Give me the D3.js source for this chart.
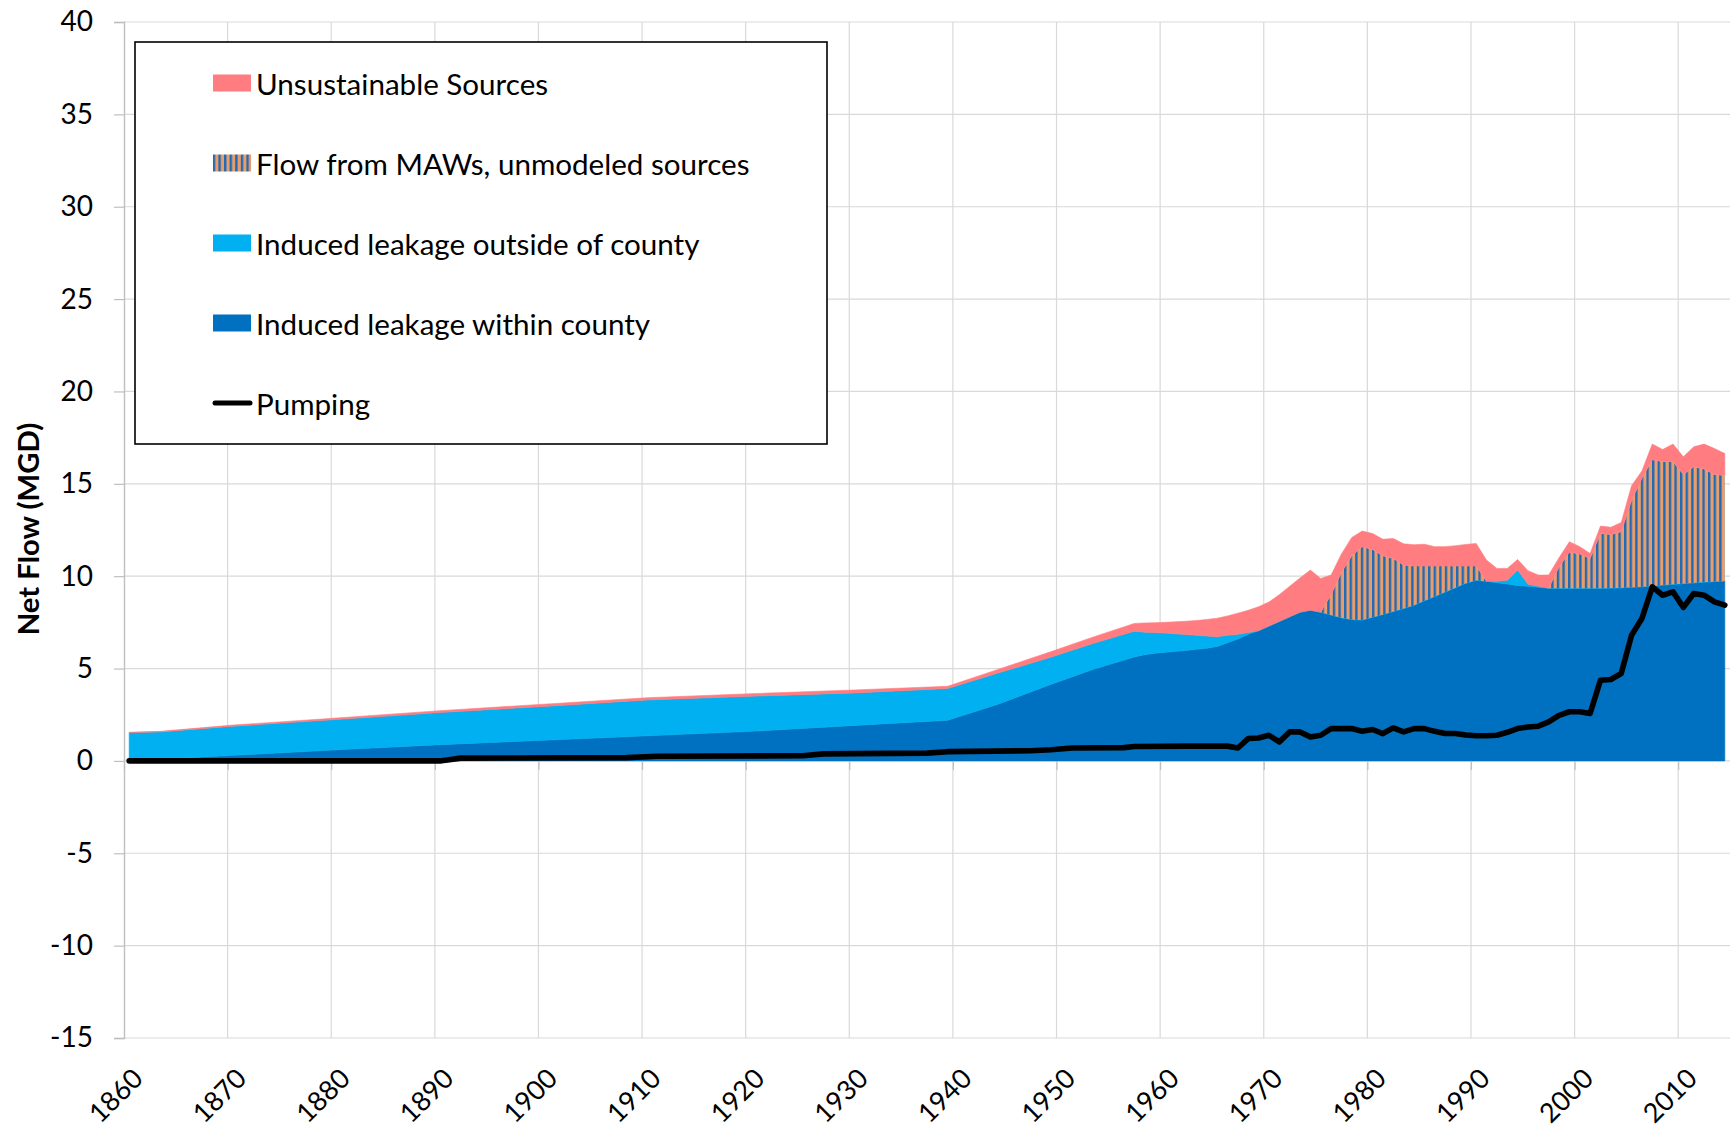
<!DOCTYPE html>
<html>
<head>
<meta charset="utf-8">
<script src="https://cdn.jsdelivr.net/npm/d3@7"></script>
<style>
  html, body { margin: 0; padding: 0; background: #ffffff; }
  svg { display: block; }
  text { font-family: Lato, "Open Sans", sans-serif; fill: #000000; }
</style>
</head>
<body>
<svg id="chart" width="1734" height="1128"></svg>
<script>
// ---- Data (MGD) ----
const years = [1860, 1863, 1870, 1880, 1890, 1900, 1910, 1920, 1930, 1939, 1944, 1949, 1953,
  1957, 1958, 1959, 1960, 1961, 1962, 1963, 1964, 1965, 1966, 1967, 1968, 1969,
  1970, 1971, 1972, 1973, 1974, 1975, 1976, 1977, 1978, 1979,
  1980, 1981, 1982, 1983, 1984, 1985, 1986, 1987, 1988, 1989,
  1990, 1991, 1992, 1993, 1994, 1995, 1996, 1997, 1998, 1999,
  2000, 2001, 2002, 2003, 2004, 2005, 2006, 2007, 2008, 2009,
  2010, 2011, 2012, 2013, 2014];

const withinCounty = [0, 0.08, 0.3, 0.6, 0.88, 1.12, 1.36, 1.6, 1.92, 2.2, 3.1, 4.15, 4.95,
  5.63, 5.75, 5.83, 5.88, 5.93, 5.98, 6.04, 6.1, 6.2, 6.4, 6.6, 6.85, 7.05,
  7.3, 7.55, 7.8, 8.05, 8.16, 8.05, 7.9, 7.75, 7.65, 7.63,
  7.78, 7.93, 8.09, 8.25, 8.43, 8.67, 8.9, 9.14, 9.38, 9.62,
  9.78, 9.72, 9.65, 9.58, 9.5, 9.45, 9.4, 9.35, 9.34, 9.34,
  9.34, 9.35, 9.35, 9.36, 9.37, 9.4, 9.43, 9.47, 9.52, 9.56,
  9.6, 9.64, 9.68, 9.71, 9.74];

const outsideCounty = [1.54, 1.49, 1.58, 1.64, 1.74, 1.83, 1.94, 1.9, 1.76, 1.72, 1.68, 1.47, 1.4,
  1.39, 1.22, 1.12, 1.04, 0.95, 0.86, 0.76, 0.66, 0.52, 0.4, 0.25, 0.1, 0,
  0, 0, 0, 0, 0, 0, 0, 0, 0, 0,
  0, 0, 0, 0, 0, 0, 0, 0, 0, 0,
  0, 0, 0.08, 0.2, 0.83, 0.12, 0.05, 0, 0, 0,
  0, 0, 0, 0, 0, 0, 0, 0, 0, 0,
  0, 0, 0, 0, 0];

const mawFlow = [0, 0, 0, 0, 0, 0, 0, 0, 0, 0, 0, 0, 0,
  0, 0, 0, 0, 0, 0, 0, 0, 0, 0, 0, 0, 0,
  0, 0, 0, 0, 0, 0, 1.1, 2.45, 3.45, 3.96,
  3.67, 3.17, 2.87, 2.35, 2.12, 1.88, 1.65, 1.41, 1.17, 0.93,
  0.77, 0, 0, 0, 0, 0, 0, 0, 1.16, 1.96,
  1.86, 1.61, 2.96, 2.89, 3.03, 4.7, 5.87, 6.83, 6.68, 6.64,
  5.9, 6.28, 6.12, 5.79, 5.71];

const unsustainable = [0, 0.03, 0.06, 0.08, 0.1, 0.12, 0.12, 0.14, 0.16, 0.12, 0.2, 0.3, 0.35,
  0.42, 0.5, 0.53, 0.58, 0.65, 0.72, 0.8, 0.9, 1.0, 1.05, 1.15, 1.2, 1.3,
  1.3, 1.45, 1.65, 1.85, 2.17, 1.83, 1.06, 1.0, 1.0, 0.85,
  0.86, 0.9, 1.08, 1.15, 1.15, 1.18, 1.05, 1.05, 1.1, 1.17,
  1.22, 1.15, 0.69, 0.64, 0.57, 0.73, 0.61, 0.71, 0.5, 0.56,
  0.4, 0.27, 0.4, 0.4, 0.5, 0.8, 0.4, 0.85, 0.66, 0.95,
  0.96, 1.08, 1.35, 1.41, 1.19];

const pumpYears = [1860, 1890, 1892, 1908, 1911, 1925, 1927, 1937, 1939, 1947, 1949, 1951,
  1956, 1957, 1962, 1966, 1967, 1968, 1969,
  1970, 1971, 1972, 1973, 1974, 1975, 1976, 1977, 1978, 1979,
  1980, 1981, 1982, 1983, 1984, 1985, 1986, 1987, 1988, 1989,
  1990, 1991, 1992, 1993, 1994, 1995, 1996, 1997, 1998, 1999,
  2000, 2001, 2002, 2003, 2004, 2005, 2006, 2007, 2008, 2009,
  2010, 2011, 2012, 2013, 2014];

const pumping = [0, 0, 0.15, 0.18, 0.25, 0.28, 0.38, 0.42, 0.5, 0.55, 0.6, 0.7,
  0.72, 0.78, 0.8, 0.8, 0.7, 1.21, 1.24,
  1.39, 1.03, 1.57, 1.57, 1.3, 1.39, 1.75, 1.75, 1.75, 1.61,
  1.7, 1.48, 1.79, 1.57, 1.75, 1.75, 1.6, 1.48, 1.48, 1.4,
  1.36, 1.36, 1.39, 1.55, 1.75, 1.84, 1.88, 2.11, 2.47, 2.66,
  2.66, 2.57, 4.37, 4.41, 4.73, 6.8, 7.71, 9.42, 8.97, 9.15,
  8.31, 9.06, 8.97, 8.61, 8.43];

const yTicks = [-15, -10, -5, 0, 5, 10, 15, 20, 25, 30, 35, 40];
const xTicks = [1860, 1870, 1880, 1890, 1900, 1910, 1920, 1930, 1940, 1950, 1960, 1970, 1980, 1990, 2000, 2010];

const seriesKeys = ["within", "outside", "maw", "unsust"];
const legendLabels = ["Unsustainable Sources", "Flow from MAWs, unmodeled sources",
  "Induced leakage outside of county", "Induced leakage within county", "Pumping"];
const yTitle = "Net Flow (MGD)";

// ---- Styles ----
const colors = { within: "#0070C0", outside: "#00B0F0", maw: "url(#mawHatch)", unsust: "#FF7C80" };
const gridColor = "#D9D9D9";
const axisColor = "#BFBFBF";

// ---- Layout ----
const svg = d3.select("#chart");
const plot = { left: 124, right: 1730, top: 22, bottom: 1038 };

const x = d3.scaleLinear().domain([1860, 2015]).range([plot.left, plot.right]);
const y = d3.scaleLinear().domain([-15, 40]).range([plot.bottom, plot.top]);

// Hatch used for the MAW series: narrow vertical stripes
const defs = svg.append("defs");
const pat = defs.append("pattern").attr("id", "mawHatch")
  .attr("patternUnits", "userSpaceOnUse").attr("width", 5.6).attr("height", 10);
pat.append("rect").attr("width", 5.6).attr("height", 10).attr("fill", "#E89E6C");
pat.append("rect").attr("width", 2.4).attr("height", 10).attr("fill", "#2069B4");

// Gridlines
const grid = svg.append("g");
grid.selectAll("line.h").data(yTicks).join("line")
  .attr("x1", plot.left).attr("x2", plot.right)
  .attr("y1", d => y(d)).attr("y2", d => y(d))
  .attr("stroke", gridColor).attr("stroke-width", 1.2);
grid.selectAll("line.v").data(xTicks.filter(t => t > 1860)).join("line")
  .attr("x1", d => x(d)).attr("x2", d => x(d))
  .attr("y1", plot.top).attr("y2", plot.bottom)
  .attr("stroke", gridColor).attr("stroke-width", 1.2);

// Stacked areas (each year plotted at the middle of its category)
const rows = years.map((yr, i) => ({
  year: yr, within: withinCounty[i], outside: outsideCounty[i], maw: mawFlow[i], unsust: unsustainable[i]
}));
const stacked = d3.stack().keys(seriesKeys)(rows);
const area = d3.area()
  .x(d => x(d.data.year + 0.5))
  .y0(d => y(d[0]))
  .y1(d => y(d[1]));

svg.append("g").selectAll("path").data(stacked).join("path")
  .attr("d", area)
  .attr("fill", d => colors[d.key])
  .attr("stroke", d => d.key === "maw" ? "none" : colors[d.key])
  .attr("stroke-width", 0.6);

// Horizontal axis at zero with downward ticks
const xAxisG = svg.append("g").attr("transform", `translate(0,${y(0)})`)
  .call(d3.axisBottom(x).tickValues(xTicks).tickSize(9).tickFormat(""));
xAxisG.select(".domain").remove();
xAxisG.selectAll(".tick line").attr("stroke", axisColor).attr("stroke-width", 1.2);

// Vertical axis
const yAxisG = svg.append("g").attr("transform", `translate(${plot.left},0)`)
  .call(d3.axisLeft(y).tickValues(yTicks).tickSize(10).tickPadding(21).tickFormat(d => String(d)));
yAxisG.select(".domain").attr("stroke", axisColor).attr("stroke-width", 1.4);
yAxisG.selectAll(".tick line").attr("stroke", axisColor).attr("stroke-width", 1.2);
yAxisG.selectAll(".tick text")
  .attr("font-size", 28).attr("font-family", "Lato, 'Open Sans', sans-serif").attr("fill", "#000");

// Pumping line
const pumpPts = pumpYears.map((yr, i) => ({ year: yr, v: pumping[i] }));
svg.append("path").datum(pumpPts)
  .attr("d", d3.line().x(d => x(d.year + 0.5)).y(d => y(d.v)))
  .attr("fill", "none").attr("stroke", "#000").attr("stroke-width", 5.6)
  .attr("stroke-linejoin", "round").attr("stroke-linecap", "round");

// Year labels, rotated
svg.append("g").selectAll("text").data(xTicks).join("text")
  .attr("transform", d => `translate(${x(d) - 9},1095) rotate(-45)`)
  .attr("text-anchor", "middle").attr("dominant-baseline", "central")
  .attr("font-size", 27)
  .text(d => d);

// Axis title
svg.append("text")
  .attr("transform", "translate(27,529) rotate(-90)")
  .attr("text-anchor", "middle").attr("dominant-baseline", "central")
  .attr("font-size", 29.3).attr("font-weight", "bold")
  .text(yTitle);

// Legend
const legend = svg.append("g");
legend.append("rect").attr("x", 135).attr("y", 42).attr("width", 692).attr("height", 402)
  .attr("fill", "#fff").attr("stroke", "#000").attr("stroke-width", 1.6);
const swatchFills = [colors.unsust, colors.maw, colors.outside, colors.within];
legendLabels.forEach((lab, i) => {
  const cy = 83 + 80 * i;
  if (i < 4) {
    legend.append("rect").attr("x", 213).attr("y", cy - 8.5).attr("width", 38).attr("height", 17)
      .attr("fill", swatchFills[i]);
  } else {
    legend.append("line").attr("x1", 215).attr("x2", 250).attr("y1", cy).attr("y2", cy)
      .attr("stroke", "#000").attr("stroke-width", 5).attr("stroke-linecap", "round");
  }
  legend.append("text").attr("x", 256).attr("y", cy)
    .attr("dominant-baseline", "central").attr("font-size", 29.6)
    .text(lab);
});
</script>
</body>
</html>
